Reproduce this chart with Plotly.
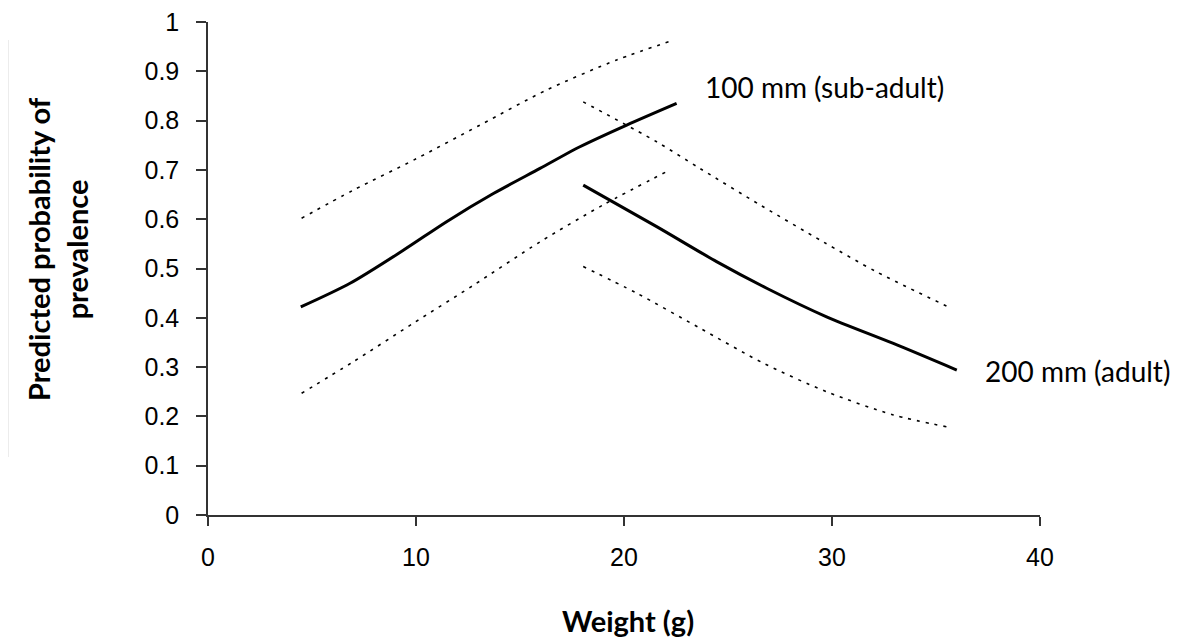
import plotly.graph_objects as go

# 100 mm (sub-adult) - predicted probability and confidence limits
x_sub = [4.46, 6.83, 9.39, 11.47, 13.72, 15.96, 17.88, 20.13, 22.53]
p_sub = [0.422, 0.470, 0.537, 0.595, 0.652, 0.703, 0.747, 0.791, 0.835]
x_sub_up = [4.5, 6.99, 10.03, 13.08, 16.28, 19.65, 22.37]
up_sub = [0.602, 0.659, 0.723, 0.791, 0.862, 0.923, 0.963]
x_sub_lo = [4.5, 6.99, 9.87, 12.76, 15.96, 19.0, 22.21]
lo_sub = [0.247, 0.311, 0.389, 0.466, 0.554, 0.629, 0.700]

# 200 mm (adult)
x_ad = [18.04, 21.57, 24.45, 26.86, 29.74, 32.95, 36.0]
p_ad = [0.669, 0.585, 0.514, 0.460, 0.402, 0.348, 0.294]
x_ad_up = [18.04, 21.57, 23.65, 26.54, 29.58, 32.15, 35.75]
up_ad = [0.838, 0.757, 0.703, 0.629, 0.554, 0.493, 0.419]
x_ad_lo = [18.04, 20.61, 23.65, 26.7, 29.74, 32.95, 35.5]
lo_ad = [0.504, 0.450, 0.379, 0.308, 0.250, 0.203, 0.179]

x_ticks = [0, 10, 20, 30, 40]
y_ticks = [0, 0.1, 0.2, 0.3, 0.4, 0.5, 0.6, 0.7, 0.8, 0.9, 1]
y_tick_text = ["0", "0.1", "0.2", "0.3", "0.4", "0.5", "0.6", "0.7", "0.8", "0.9", "1"]

fig = go.Figure()
dot = dict(color="black", width=1.6, dash="3px,6px", shape="spline", smoothing=0.8)
solid = dict(color="black", width=3, shape="spline", smoothing=0.8)
fig.add_trace(go.Scatter(x=x_sub_up, y=up_sub, mode="lines", line=dot))
fig.add_trace(go.Scatter(x=x_sub_lo, y=lo_sub, mode="lines", line=dot))
fig.add_trace(go.Scatter(x=x_sub, y=p_sub, mode="lines", line=solid))
fig.add_trace(go.Scatter(x=x_ad_up, y=up_ad, mode="lines", line=dot))
fig.add_trace(go.Scatter(x=x_ad_lo, y=lo_ad, mode="lines", line=dot))
fig.add_trace(go.Scatter(x=x_ad, y=p_ad, mode="lines", line=solid))

label_font = "Lato, Open Sans, sans-serif"
fig.update_layout(
    width=1192, height=643,
    margin=dict(l=200, r=160, t=14, b=136, autoexpand=False),
    paper_bgcolor="white", plot_bgcolor="white",
    showlegend=False,
    font=dict(family="Liberation Sans", size=25, color="black"),
)
fig.update_xaxes(range=[0, 40], tickvals=x_ticks, showgrid=False, zeroline=False,
                 showline=True, linecolor="#333", linewidth=1.5, automargin=False,
                 ticks="outside", ticklen=9, tickwidth=1.5, tickcolor="#333",
                 tickfont=dict(family="Liberation Sans", size=25, color="black"),
                 ticklabelstandoff=10, ticklabeloverflow="allow")
fig.update_yaxes(range=[0, 1], tickvals=y_ticks, ticktext=y_tick_text, showgrid=False,
                 zeroline=False, showline=True, linecolor="#333", linewidth=1.5,
                 automargin=False,
                 ticks="outside", ticklen=10, tickwidth=1.5, tickcolor="#333",
                 tickfont=dict(family="Liberation Sans", size=25, color="black"),
                 ticklabelstandoff=12, ticklabeloverflow="allow")
fig.update_layout(
    annotations=[
        dict(text="100 mm (sub-adult)", x=23.8, y=0.868, xref="x", yref="y",
             xanchor="left", yanchor="middle", showarrow=False,
             font=dict(family=label_font, size=28, color="black")),
        dict(text="200 mm (adult)", x=37.26, y=0.292, xref="x", yref="y",
             xanchor="left", yanchor="middle", showarrow=False,
             font=dict(family=label_font, size=28, color="black")),
        dict(text="<b>Weight (g)</b>", x=0.505, y=-0.213, xref="paper", yref="paper",
             xanchor="center", yanchor="middle", showarrow=False,
             font=dict(family=label_font, size=29, color="black")),
        dict(text="<b>Predicted probability of<br>prevalence</b>", x=-0.18, y=0.54,
             xref="paper", yref="paper", textangle=-90, xanchor="center", yanchor="middle",
             showarrow=False, align="center",
             font=dict(family=label_font, size=29, color="black")),
    ],
    shapes=[dict(type="line", xref="paper", yref="paper", x0=-0.2404, x1=-0.2404,
                 y0=0.1176, y1=0.9635, line=dict(color="#e6e6e6", width=1.5))],
)
fig.write_html("out.html")
